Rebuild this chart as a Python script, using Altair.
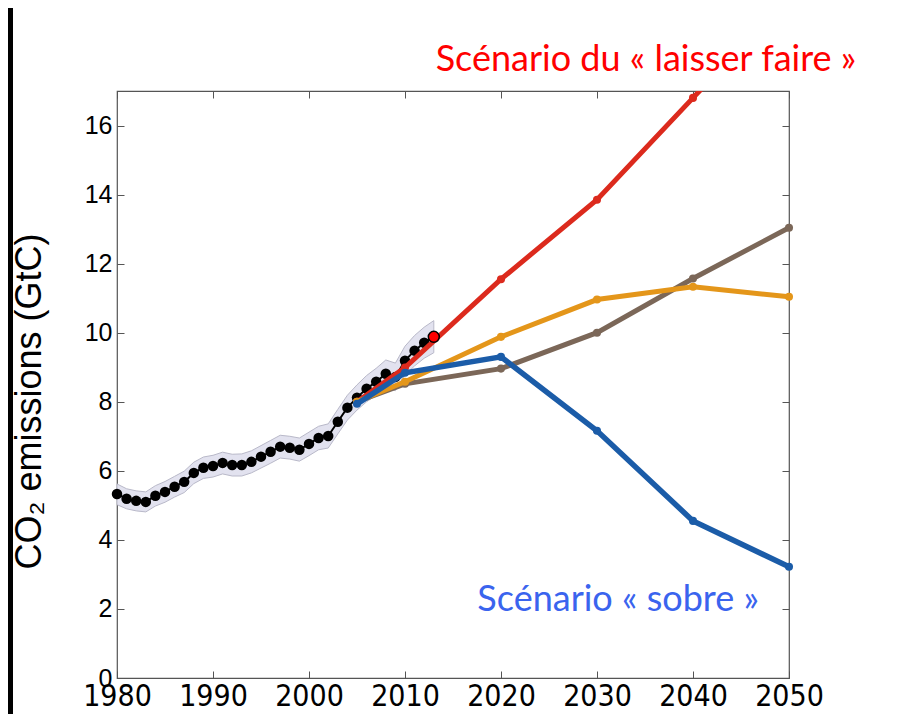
import altair as alt
import pandas as pd

# ---------------- data ----------------
hist_years = list(range(1980, 2014))
hist_vals = [5.33, 5.19, 5.13, 5.10, 5.28, 5.39, 5.54, 5.68, 5.94, 6.09,
             6.14, 6.23, 6.17, 6.17, 6.26, 6.41, 6.55, 6.70, 6.67, 6.61,
             6.78, 6.95, 7.01, 7.42, 7.83, 8.12, 8.38, 8.58, 8.81, 8.72,
             9.19, 9.48, 9.71, 9.88]
hist_lo = [5.02, 4.90, 4.84, 4.81, 4.98, 5.09, 5.24, 5.37, 5.63, 5.78,
           5.82, 5.91, 5.85, 5.85, 5.94, 6.08, 6.22, 6.37, 6.34, 6.28,
           6.44, 6.61, 6.66, 7.07, 7.47, 7.76, 8.00, 8.19, 8.41, 8.32,
           8.77, 9.04, 9.26, 9.42]
hist_hi = [5.62, 5.48, 5.42, 5.39, 5.57, 5.69, 5.84, 5.99, 6.25, 6.40,
           6.45, 6.54, 6.48, 6.49, 6.58, 6.73, 6.88, 7.03, 7.00, 6.95,
           7.12, 7.29, 7.36, 7.78, 8.19, 8.49, 8.76, 8.97, 9.21, 9.12,
           9.61, 9.92, 10.16, 10.35]

scen_years = [2005, 2010, 2020, 2030, 2040, 2050]
scen_red = [8.00, 8.99, 11.55, 13.85, 16.80, 19.75]
scen_brown = [8.00, 8.52, 8.96, 10.00, 11.57, 13.04]
scen_orange = [8.00, 8.58, 9.88, 10.96, 11.33, 11.04]
scen_blue = [7.94, 8.84, 9.30, 7.16, 4.55, 3.22]

x_ticks = [1980, 1990, 2000, 2010, 2020, 2030, 2040, 2050]
y_ticks = [0, 2, 4, 6, 8, 10, 12, 14, 16]

ann_text = ["Scénario du « laisser faire »", "Scénario « sobre »", "»"]
ann_x = [2035.1, 2032.2, 2061.9]
ann_y = [17.9, 2.26, 10.96]
ann_color = ["#ff0000", "#3a64ee", "#e4961a"]

# ---------------- chart ----------------
W, H = 672, 587
X_DOM = [1980, 2050]
Y_DOM = [0, 17]
FRAME = "#555555"
NARROW = "Liberation Sans Narrow, Arial Narrow, DejaVu Sans Condensed, Roboto Condensed, Liberation Sans, sans-serif"

hist = pd.DataFrame({"year": hist_years, "v": hist_vals, "lo": hist_lo, "hi": hist_hi})
last = hist.tail(1)


def xs(axis=None):
    return alt.X("year:Q", scale=alt.Scale(domain=X_DOM, nice=False, zero=False), axis=axis)


def ys(field="v", axis=None):
    return alt.Y(f"{field}:Q", scale=alt.Scale(domain=Y_DOM, nice=False, zero=False), axis=axis)


ax_bottom = alt.Axis(orient="bottom", values=x_ticks, format="d", offset=-7, tickSize=7,
                     domain=False, grid=False, title=None, labelFont=NARROW,
                     labelFontSize=30, labelColor="black", tickColor=FRAME, labelPadding=3,
                     labelFlush=False, labelOverlap=False)
ax_left = alt.Axis(orient="left", values=y_ticks, offset=-7, tickSize=7, domain=False,
                   grid=False, title="CO₂ emissions (GtC)", titleFont="Liberation Sans",
                   titleFontSize=36, titleFontWeight="normal", titleColor="black",
                   titleAngle=270, titleX=-95, titleY=310, titleBaseline="middle",
                   labelFont="Liberation Sans", labelFontSize=25, labelColor="black",
                   tickColor=FRAME, labelPadding=5, labelOverlap=False, labelFlush=False)
ax_top = alt.Axis(orient="top", values=x_ticks, offset=-7, tickSize=7, domain=False,
                  grid=False, labels=False, title=None, tickColor=FRAME)
ax_right = alt.Axis(orient="right", values=y_ticks, offset=-7, tickSize=7, domain=False,
                    grid=False, labels=False, title=None, tickColor=FRAME)

band = alt.Chart(hist).mark_area(color="#e2e2ef", stroke="#b9b9c9", strokeWidth=1).encode(
    x=xs(ax_bottom), y=ys("lo", ax_left), y2="hi:Q")

hist_line = alt.Chart(hist).mark_line(color="black", strokeWidth=2).encode(
    x=xs(ax_top), y=ys("v", ax_right))
hist_pts = alt.Chart(hist).mark_circle(color="black", size=110, opacity=1).encode(
    x=xs(), y=ys())
last_pt = alt.Chart(last).mark_point(filled=True, fill="#ff0000", stroke="black",
                                     strokeWidth=1.5, size=120, opacity=1).encode(x=xs(), y=ys())


def scen(vals, color, clip=False, width=5):
    df = pd.DataFrame({"year": scen_years, "v": vals})
    return alt.Chart(df).mark_line(
        color=color, strokeWidth=width, clip=clip,
        point=alt.OverlayMarkDef(filled=True, color=color, size=65, opacity=1, clip=clip)
    ).encode(x=xs(), y=ys())


red = scen(scen_red, "#dc2a1d", clip=True)
brown = scen(scen_brown, "#7b6758")
orange = scen(scen_orange, "#e4961a")
blue = scen(scen_blue, "#1b5ca8", width=5.5)

ann = pd.DataFrame({"t": ann_text, "year": ann_x, "v": ann_y, "c": ann_color})
texts = alt.Chart(ann).mark_text(font="Lato", fontSize=36, align="center",
                                 baseline="middle", clip=False).encode(
    x=xs(), y=ys(), text="t:N", color=alt.Color("c:N", scale=None))

strip = alt.Chart(pd.DataFrame({"k": [0]})).mark_rect(color="black").encode(
    x=alt.value(-109), x2=alt.value(-104), y=alt.value(-90), y2=alt.value(650))

chart = alt.layer(
    strip, band, hist_line, hist_pts, red, brown, orange, blue, last_pt, texts
).resolve_axis(x="independent", y="independent").properties(
    width=W, height=H,
    autosize=alt.AutoSizeParams(type="none"),
    padding={"left": 109, "top": 83, "right": 107, "bottom": 36},
    background="white",
).configure_view(stroke=FRAME, strokeWidth=1.2)

chart.save("out.html", embed_options={"renderer": "svg", "actions": False})
